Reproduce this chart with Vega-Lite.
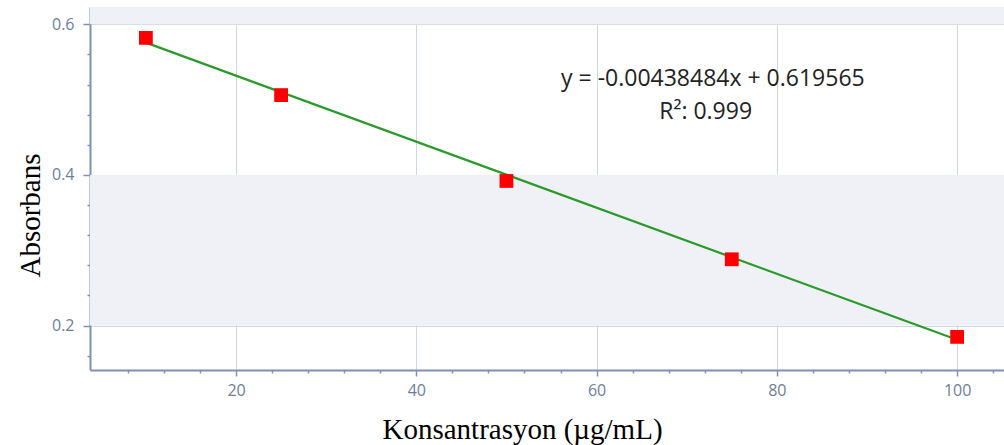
{
  "$schema": "https://vega.github.io/schema/vega-lite/v6.json",
  "width": 914,
  "height": 363,
  "autosize": {"type": "none"},
  "padding": {"left": 90, "top": 7, "right": 0, "bottom": 75},
  "background": "white",
  "config": {"view": {"stroke": null}},
  "datasets": {
    "points": [
      {"conc": 10, "abs": 0.582},
      {"conc": 25, "abs": 0.506},
      {"conc": 50, "abs": 0.392},
      {"conc": 75, "abs": 0.288},
      {"conc": 100, "abs": 0.185}
    ],
    "fit": [
      {"conc": 10, "abs": 0.5757},
      {"conc": 100, "abs": 0.1811}
    ],
    "bands": [
      {"b0": 0.2, "b1": 0.4},
      {"b0": 0.6, "b1": 0.7}
    ],
    "labels": [
      {"conc": 72.9, "abs": 0.527, "text": "y = -0.00438484x + 0.619565"},
      {"conc": 72.1, "abs": 0.483, "text": "R²: 0.999"}
    ]
  },
  "resolve": {"axis": {"x": "independent", "y": "independent"}},
  "layer": [
    {
      "data": {"name": "bands"},
      "mark": {"type": "rect", "color": "#eff1f6", "clip": true},
      "encoding": {
        "y": {"field": "b0", "type": "quantitative", "scale": {"domain": [0.141, 0.623], "nice": false, "zero": false}, "axis": null},
        "y2": {"field": "b1"}
      }
    },
    {
      "data": {"name": "points"},
      "mark": {"type": "point", "opacity": 0},
      "encoding": {
        "x": {"field": "conc", "type": "quantitative", "scale": {"domain": [3.8, 105.2], "nice": false, "zero": false},
          "axis": {"orient": "bottom", "values": [8, 12, 16, 24, 28, 32, 36, 44, 48, 52, 56, 64, 68, 72, 76, 84, 88, 92, 96, 104], "labels": false, "domain": false, "grid": false, "title": null, "tickColor": "#7f90b8", "tickSize": 3, "tickWidth": 1.5}},
        "y": {"field": "abs", "type": "quantitative", "scale": {"domain": [0.141, 0.623], "nice": false, "zero": false},
          "axis": {"orient": "left", "values": [0.16, 0.24, 0.28, 0.32, 0.36, 0.44, 0.48, 0.52, 0.56], "labels": false, "domain": false, "grid": false, "title": null, "tickColor": "#7f90b8", "tickSize": 3, "tickWidth": 1.5}}
      }
    },
    {
      "data": {"name": "fit"},
      "mark": {"type": "line", "color": "#2b9a2b", "strokeWidth": 2.2},
      "encoding": {
        "x": {"field": "conc", "type": "quantitative", "scale": {"domain": [3.8, 105.2], "nice": false, "zero": false},
          "axis": {"orient": "bottom", "values": [20, 40, 60, 80, 100], "grid": true, "gridColor": "#cfd6e6", "gridWidth": 1,
            "domainColor": "#7f90b8", "domainWidth": 2, "tickColor": "#7f90b8", "tickSize": 6, "tickWidth": 1.5,
            "labelColor": "#6f7d9c", "labelFont": "Open Sans", "labelFontSize": 16, "labelPadding": 6,
            "title": "Konsantrasyon (µg/mL)", "titleFont": "Liberation Serif", "titleFontSize": 29, "titleFontWeight": "normal", "titleColor": "#000000",
            "titleX": 432, "titleY": 59, "titleAlign": "center", "titleBaseline": "middle"}},
        "y": {"field": "abs", "type": "quantitative", "scale": {"domain": [0.141, 0.623], "nice": false, "zero": false},
          "axis": {"orient": "left", "values": [0.2, 0.4, 0.6], "format": ".1f", "grid": true, "gridColor": "#cfd6e6", "gridWidth": 1,
            "domainColor": "#7f90b8", "domainWidth": 2, "tickColor": "#7f90b8", "tickSize": 7, "tickWidth": 1.5,
            "labelColor": "#6f7d9c", "labelFont": "Open Sans", "labelFontSize": 16, "labelPadding": 9,
            "title": "Absorbans", "titleFont": "Liberation Serif", "titleFontSize": 29, "titleFontWeight": "normal", "titleColor": "#000000",
            "titleX": -60, "titleY": 208, "titleAngle": 270, "titleAlign": "center", "titleBaseline": "middle"}}
      }
    },
    {
      "data": {"name": "points"},
      "mark": {"type": "square", "color": "#ff0000", "opacity": 1, "filled": true, "size": 190},
      "encoding": {
        "x": {"field": "conc", "type": "quantitative", "axis": null},
        "y": {"field": "abs", "type": "quantitative", "axis": null}
      }
    },
    {
      "data": {"name": "labels"},
      "mark": {"type": "text", "font": "Open Sans", "fontSize": 23, "color": "#222222", "align": "center", "baseline": "middle"},
      "encoding": {
        "x": {"field": "conc", "type": "quantitative", "axis": null},
        "y": {"field": "abs", "type": "quantitative", "axis": null},
        "text": {"field": "text"}
      }
    }
  ]
}
